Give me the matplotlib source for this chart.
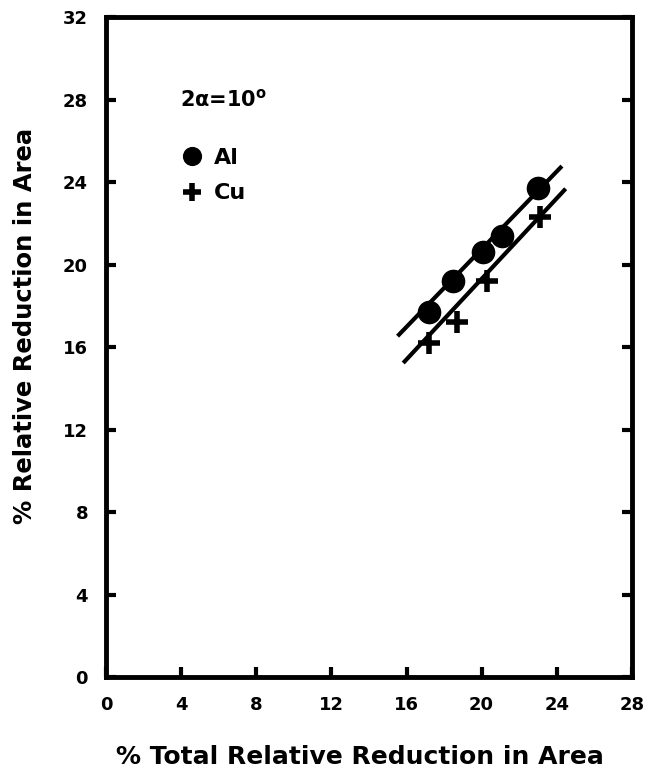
import matplotlib
matplotlib.use('Agg')
import matplotlib.pyplot as plt

plt.rcParams['font.family'] = ['DejaVu Sans']
plt.rcParams['font.weight'] = 'bold'
plt.rcParams['mathtext.default'] = 'bf'

# data
al_x = [17.2, 18.5, 20.1, 21.1, 23.0]
al_y = [17.7, 19.2, 20.6, 21.4, 23.7]
cu_x = [17.2, 18.7, 20.3, 23.1]
cu_y = [16.2, 17.2, 19.2, 22.3]

# straight fit lines drawn in the figure
al_line_x = [15.6, 24.2]
al_line_y = [16.6, 24.7]
cu_line_x = [15.9, 24.4]
cu_line_y = [15.3, 23.6]

x_ticks = [0, 4, 8, 12, 16, 20, 24, 28]
y_ticks = [0, 4, 8, 12, 16, 20, 24, 28, 32]

fig = plt.figure(figsize=(6.63, 7.74), dpi=100)
ax = fig.add_axes([0.160, 0.1253, 0.793, 0.8527])

ax.plot(al_line_x, al_line_y, color='black', lw=3)
ax.plot(cu_line_x, cu_line_y, color='black', lw=3)
ax.plot(al_x, al_y, 'o', color='black', ms=16, label='Al', zorder=3)
ax.plot(cu_x, cu_y, '+', color='black', ms=16, mew=4, label='Cu', zorder=3)

ax.set_xlim(0, 28)
ax.set_ylim(0, 32)
ax.set_xticks(x_ticks)
ax.set_yticks(y_ticks)
ax.tick_params(direction='in', length=7, width=3, labelsize=13)
ax.tick_params(axis='x', pad=14)
ax.tick_params(axis='y', right=True, pad=13)
for s in ax.spines.values():
    s.set_linewidth(3.5)

ax.set_xlabel('% Total Relative Reduction in Area', fontsize=18, fontweight='bold')
ax.set_ylabel('% Relative Reduction in Area', fontsize=17.5, fontweight='bold')
ax.xaxis.set_label_coords(0.483, -0.103)
ax.yaxis.set_label_coords(-0.132, 0.532)

ax.text(0.141, 0.875, r'2$\alpha$=10$^{o}$', transform=ax.transAxes, fontsize=15,
        fontweight='bold', va='center')
leg = ax.legend(loc='upper left', bbox_to_anchor=(0.105, 0.832), frameon=False,
                handlelength=1.0, handletextpad=0.45, labelspacing=0.7, numpoints=1,
                markerscale=0.8, prop={'size': 16, 'weight': 'bold'})

fig.savefig('out.png', dpi=100)
